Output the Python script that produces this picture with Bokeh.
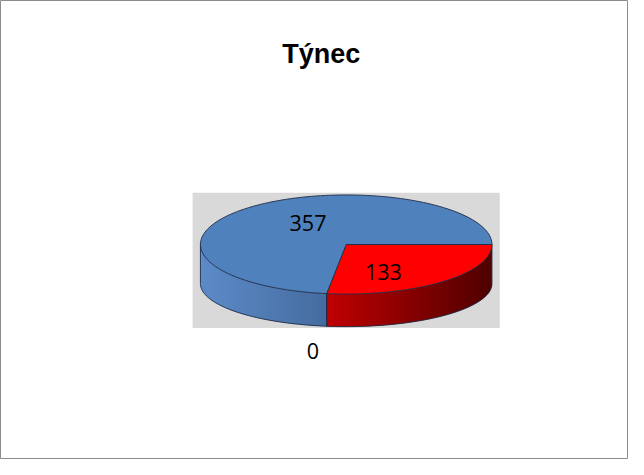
import numpy as np
from bokeh.plotting import figure
from bokeh.models import Range1d
from bokeh.core.properties import value
from bokeh.embed import file_html
from bokeh.resources import INLINE

# ---- data ----
title_text = "Týnec"
categories = ["1", "2", "3"]
values = [133, 0, 357]
top_colors = ["#ff0000", "#9bbb59", "#4f81bd"]
side_light = ["#c00000", "#7d9a44", "#5d8bc8"]
side_dark = ["#4e0000", "#5a7030", "#456c9f"]
label_nudge = [(-11, 9), (-14, 26), (10, -3)]

# ---- geometry (style), in reference-pixel units ----
W, H = 628, 459
RW, RH = 644, 475
cx, cy, a, b = 354.5, 252.5, 149.5, 51.3
depth_side, b_bottom = 40.5, 44.5
start_angle = 0.0  # clockwise degrees from 3 o'clock

p = figure(width=W, height=H, output_backend="svg", toolbar_location=None,
           x_range=Range1d(0, RW), y_range=Range1d(RH, 0),
           min_border=0, background_fill_color="white", border_fill_color="white")
p.xaxis.visible = False
p.yaxis.visible = False
p.xgrid.visible = False
p.ygrid.visible = False
p.outline_line_color = "#8c8c8c"
p.outline_line_width = 1

# plot area background
p.quad(left=[197], right=[512], top=[199], bottom=[339], fill_color="#d9d9d9", line_color=None)


def pt(c, r=1.0):
    rad = np.radians(c)
    return cx + r * a * np.cos(rad), cy + r * b * np.sin(rad)


def pt_bottom(c):
    rad = np.radians(c)
    return cx + a * np.cos(rad), cy + depth_side + b_bottom * np.sin(rad)


def hex2rgb(h):
    return np.array([int(h[k:k + 2], 16) for k in (1, 3, 5)], dtype=float)


total = float(sum(values))
bounds = start_angle + np.concatenate([[0], np.cumsum(values)]) / total * 360.0

# side walls (front half)
sx, sy, sc = [], [], []
ex, ey = [], []
for i, v in enumerate(values):
    c0, c1 = bounds[i], bounds[i + 1]
    if c1 <= c0:
        continue
    for lo, hi in [(0, 180), (360, 540), (-360, -180)]:
        s0, s1 = max(c0, lo), min(c1, hi)
        if s1 <= s0:
            continue
        N = 60
        cs = np.linspace(s0, s1, N + 1)
        xs_all = [pt(c)[0] for c in cs]
        xmin, xmax = min(xs_all), max(xs_all)
        l = hex2rgb(side_light[i])
        d = hex2rgb(side_dark[i])
        for k in range(N):
            ca, cb = cs[k], cs[min(k + 2, N)]
            xa, ya = pt(ca)
            xb, yb = pt(cb)
            xa2, ya2 = pt_bottom(ca)
            xb2, yb2 = pt_bottom(cb)
            xm = pt((cs[k] + cs[k + 1]) / 2)[0]
            f = (xm - xmin) / max(xmax - xmin, 1e-9)
            col = l + (d - l) * f
            sx.append([xa, xb, xb2, xa2])
            sy.append([ya, yb, yb2, ya2])
            sc.append("#%02x%02x%02x" % tuple(int(round(q)) for q in col))
        ex.append([pt_bottom(c)[0] for c in cs])
        ey.append([pt_bottom(c)[1] for c in cs])
        for c in (s0, s1):
            x0, y0 = pt(c)
            x1, y1 = pt_bottom(c)
            ex.append([x0, x1])
            ey.append([y0, y1])

p.patches(sx, sy, fill_color=sc, line_color=None)
p.multi_line(ex, ey, line_color="#1f2d45", line_width=0.9)

# top faces
tx, ty, tc = [], [], []
for i, v in enumerate(values):
    c0, c1 = bounds[i], bounds[i + 1]
    if c1 <= c0:
        continue
    cs = np.linspace(c0, c1, max(int((c1 - c0) / 2), 4) + 1)
    tx.append([cx] + [pt(c)[0] for c in cs] + [cx])
    ty.append([cy] + [pt(c)[1] for c in cs] + [cy])
    tc.append(top_colors[i])
p.patches(tx, ty, fill_color=tc, line_color="#1f2d45", line_width=0.9)

# data labels
lx, ly, lt = [], [], []
for i, v in enumerate(values):
    mid = (bounds[i] + bounds[i + 1]) / 2
    if v == 0:
        x0, y0 = pt_bottom(mid)
    else:
        x0, y0 = pt(mid, 0.5)
    lx.append(x0 + label_nudge[i][0])
    ly.append(y0 + label_nudge[i][1])
    lt.append(str(v))
p.text(x=lx, y=ly, text=lt, text_align="center", text_baseline="middle",
       text_font=value("Open Sans"), text_font_size="21.5px", text_color="black")

# title
p.text(x=[329], y=[55.5], text=[title_text], text_align="center",
       text_baseline="alphabetic", text_font=value("Liberation Sans"),
       text_font_size="27px", text_font_style="bold", text_color="black")

open("out.html", "w").write(file_html(p, INLINE))
